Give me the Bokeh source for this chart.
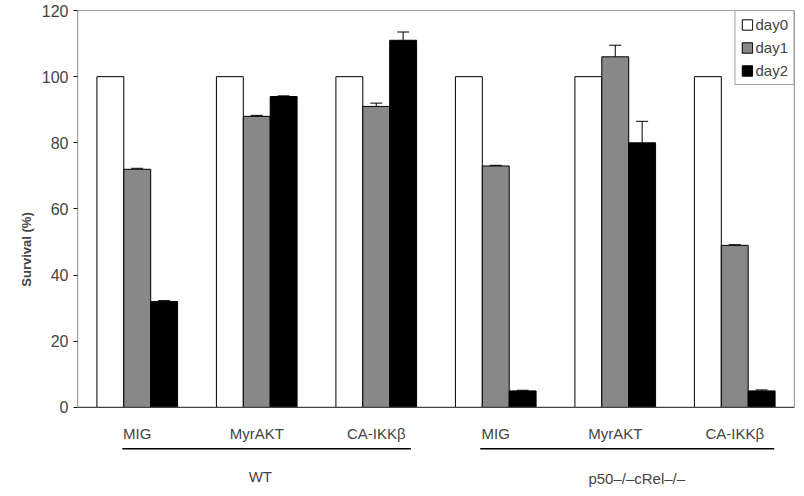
from bokeh.plotting import figure
from bokeh.models import Label, Legend, LegendItem, Whisker, ColumnDataSource, Span
from bokeh.embed import file_html
from bokeh.resources import INLINE

constructs = ["MIG", "MyrAKT", "CA-IKK\u03b2", "MIG", "MyrAKT", "CA-IKK\u03b2"]
groups = ["WT", "p50\u2013/\u2013cRel\u2013/\u2013"]
day0 = [100, 100, 100, 100, 100, 100]
day1 = [72, 88, 91, 73, 106, 49]
day2 = [32, 94, 111, 5, 80, 5]
day1_err = [0.3, 0.3, 1.0, 0.2, 3.5, 0.2]
day2_err = [0.3, 0.2, 2.5, 0.2, 6.5, 0.3]

FONT = "Liberation Sans"
centers = [i + 0.5 for i in range(len(constructs))]
w = 0.225

p = figure(width=796, height=488, x_range=(0, 6), y_range=(-24.5, 120),
           output_backend="svg", toolbar_location=None,
           min_border_left=77, min_border_right=2, min_border_top=10, min_border_bottom=0)
p.xgrid.visible = False
p.ygrid.visible = False
p.xaxis.visible = False
p.outline_line_color = None
p.yaxis.axis_label = "Survival (%)"
p.yaxis.axis_label_text_font = FONT
p.yaxis.axis_label_text_font_style = "bold"
p.yaxis.axis_label_text_font_size = "13px"
p.yaxis.major_label_text_font = FONT
p.yaxis.major_label_text_font_size = "16px"
p.yaxis.ticker = [0, 20, 40, 60, 80, 100, 120]
p.yaxis.minor_tick_line_color = None
p.yaxis.major_tick_in = 0
p.yaxis.major_tick_out = 4
p.yaxis.axis_line_color = None

# frame: left, top, right edges and baseline
p.segment(x0=[0, 0, 6], x1=[0, 6, 6], y0=[0, 120, 0], y1=[120, 120, 120],
          line_color="#444444", line_width=1.2)
p.add_layout(Span(location=0, dimension="width", line_color="#444444", line_width=1.2))

series = [(day0, None, "white", "day0", -w), (day1, day1_err, "#888888", "day1", 0),
          (day2, day2_err, "black", "day2", w)]
items = []
for vals, errs, col, name, off in series:
    xs = [c + off for c in centers]
    r = p.vbar(x=xs, top=vals, width=w, fill_color=col, line_color="black", line_width=1)
    items.append(LegendItem(label=name, renderers=[r]))
    if errs:
        hi = [v + e for v, e in zip(vals, errs)]
        src = ColumnDataSource(dict(x=xs, lo=vals, hi=hi))
        p.add_layout(Whisker(source=src, base="x", lower="lo", upper="hi",
                             lower_head=None, upper_head=None, line_color="black"))
        p.segment(x0=[x - 0.05 for x in xs], x1=[x + 0.05 for x in xs],
                  y0=hi, y1=hi, line_color="black")

leg = Legend(items=items, location="top_right", label_text_font=FONT,
             label_text_font_size="15px", glyph_width=13, glyph_height=13,
             spacing=6, padding=5, margin=0, border_line_color="#444444",
             label_standoff=2, label_height=16)
p.add_layout(leg)

for c, name in zip(centers, constructs):
    p.add_layout(Label(x=c, y=-8, text=name, text_align="center", text_baseline="middle",
                       text_font=FONT, text_font_size="15px"))
p.segment(x0=[0.375, 3.37], x1=[2.79, 5.83], y0=[-12.5, -12.5], y1=[-12.5, -12.5],
          line_color="black", line_width=1.5)
p.add_layout(Label(x=1.53, y=-21, text=groups[0], text_align="center",
                   text_baseline="middle", text_font=FONT, text_font_size="15px"))
p.add_layout(Label(x=4.68, y=-21.5, text=groups[1], text_align="center",
                   text_baseline="middle", text_font=FONT, text_font_size="15px"))

open("out.html", "w").write(file_html(p, INLINE))
